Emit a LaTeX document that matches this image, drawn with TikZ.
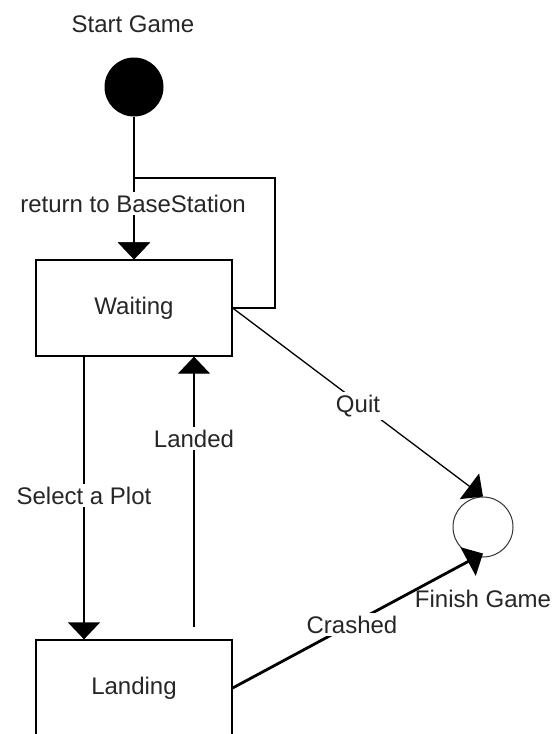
\documentclass[tikz,border=0pt]{standalone}
\usepackage{fontspec}
\setmainfont{Liberation Sans}
\usetikzlibrary{arrows.meta}
\tikzset{
  state/.style={draw, line width=1.3pt, minimum width=196pt, minimum height=96pt, inner sep=0pt, fill=white, text=black!85},
  flow/.style={line width=1.3pt, -{Triangle[length=17pt,width=32pt]}},
  heavyflow/.style={flow, line width=2.8pt},
  edgelabel/.style={fill=white, inner sep=3pt, anchor=base, text=black!85},
  caption/.style={inner sep=0pt, anchor=base, text=black!85},
  initial/.style={circle, fill=black, minimum size=59pt, inner sep=0pt},
  final/.style={circle, draw=black!80, fill=white, line width=1pt, minimum size=60pt, inner sep=0pt},
}
\begin{document}
\begin{tikzpicture}[x=1pt,y=-1pt, font=\fontsize{24pt}{28pt}\selectfont]
\clip (0,0) rectangle (555,734);
\fill[white] (0,0) rectangle (555,734);

% states
\node[state] (waiting) at (134,308) {Waiting};
\node[state] (landing) at (134,688) {Landing};
\node[initial] (start) at (134,87) {};
\node[final] (finish) at (483,527) {};
\coordinate (loopcorner) at (275,178);

% transitions
\draw[flow] (start) -- (waiting);
\draw[flow] (waiting.east) -| (loopcorner) -| (waiting.north);
\draw[flow] (waiting.east) -- (finish.north);
\draw[flow] ([xshift=-50pt]waiting.south) -- ([xshift=-50pt]landing.north);
\draw[flow] ([xshift=60pt,yshift=12pt]landing.north) -- ([xshift=60pt]waiting.south);
\draw[heavyflow] (landing.east) -- ([yshift=4pt]finish.south);

% labels
\node[caption] (startlabel) at (133,32) {Start Game};
\node[edgelabel] (lreturn) at (133,212) {return to BaseStation};
\node[edgelabel] (lquit) at (358,412) {Quit};
\node[edgelabel] (llanded) at (194,447) {Landed};
\node[edgelabel] (lselect) at (84,504) {Select a Plot};
\node[edgelabel] (lcrashed) at (352,633) {Crashed};
\node[caption] (lfinish) at (483,607) {Finish Game};
\end{tikzpicture}
\end{document}
